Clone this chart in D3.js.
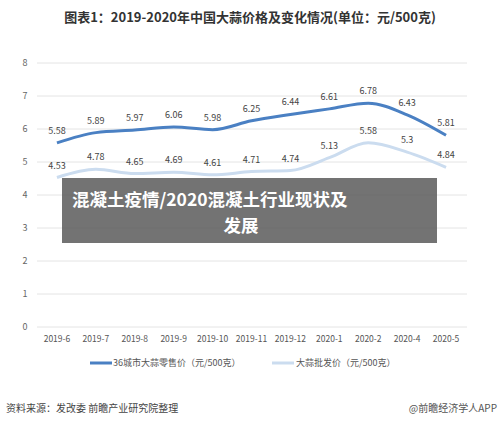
<!DOCTYPE html>
<html><head><meta charset="utf-8">
<script src="https://cdn.jsdelivr.net/npm/d3@7"></script>
<style>body{margin:0;background:#fff;font-family:"Noto Sans CJK SC",sans-serif}</style>
</head><body><svg id="c"></svg>
<script>
const months = ["2019-6","2019-7","2019-8","2019-9","2019-10","2019-11","2019-12","2020-1","2020-2","2020-4","2020-5"];
const retail = [5.58,5.89,5.97,6.06,5.98,6.25,6.44,6.61,6.78,6.43,5.81];
const wholesale = [4.53,4.78,4.65,4.69,4.61,4.71,4.74,5.13,5.58,5.3,4.84];
const yTicks = [0,1,2,3,4,5,6,7,8];

const svg = d3.select("#c").attr("width",500).attr("height",425);
const x = d3.scaleBand().domain(months).range([37.5,465.5]);
const y = d3.scaleLinear().domain([0,8]).range([327,63]);
const cx = d => x(d) + x.bandwidth()/2;

svg.append("text").attr("x",250).attr("y",22).attr("text-anchor","middle")
  .attr("font-size",13).attr("font-weight","bold").attr("fill","#333")
  .text("图表1：2019-2020年中国大蒜价格及变化情况(单位：元/500克)");

// grid + y labels
svg.selectAll(".grid").data(yTicks).join("line")
  .attr("x1",37).attr("x2",467).attr("y1",d=>y(d)).attr("y2",d=>y(d))
  .attr("stroke","#e4e4e4");
svg.selectAll(".yl").data(yTicks).join("text")
  .attr("x",25).attr("y",d=>y(d)+3).attr("text-anchor","middle")
  .attr("font-size",9).attr("fill","#666").text(d=>d);
svg.selectAll(".xl").data(months).join("text")
  .attr("x",cx).attr("y",342).attr("text-anchor","middle")
  .attr("font-size",8.5).attr("fill","#555").text(d=>d);

const line = d3.line().x((d,i)=>cx(months[i])).y(d=>y(d)).curve(d3.curveMonotoneX);
const series = [
  {v:retail,color:"#4a80c3",dy:-9,name:"36城市大蒜零售价（元/500克）"},
  {v:wholesale,color:"#cbdcef",dy:-9,name:"大蒜批发价（元/500克）"}
];
series.forEach(s=>{
  svg.append("path").datum(s.v).attr("d",line).attr("fill","none")
    .attr("stroke",s.color).attr("stroke-width",3);
  svg.selectAll(null).data(s.v).join("text")
    .attr("x",(d,i)=>cx(months[i])).attr("y",d=>y(d)+s.dy)
    .attr("text-anchor","middle").attr("font-size",9).attr("fill","#444").text(d=>d);
});

// legend
const lg = [{x:90,tx:113},{x:272,tx:296}];
series.forEach((s,i)=>{
  svg.append("line").attr("x1",lg[i].x).attr("x2",lg[i].x+22).attr("y1",363).attr("y2",363)
    .attr("stroke",s.color).attr("stroke-width",3);
  svg.append("text").attr("x",lg[i].tx).attr("y",366).attr("font-size",9).attr("fill","#555").text(s.name);
});

svg.append("text").attr("x",6).attr("y",412).attr("font-size",10).attr("fill","#444")
  .text("资料来源：发改委 前瞻产业研究院整理");
svg.append("text").attr("x",497).attr("y",412).attr("text-anchor","end").attr("font-size",10).attr("fill","#555")
  .text("@前瞻经济学人APP");

// overlay banner
svg.append("rect").attr("x",62).attr("y",178).attr("width",375).attr("height",65)
  .attr("fill","#5a5a5a").attr("opacity",0.85);
svg.append("text").attr("x",72).attr("y",206).attr("font-size",17.5).attr("font-weight","bold").attr("fill","#fff")
  .text("混凝土疫情/2020混凝土行业现状及");
svg.append("text").attr("x",241).attr("y",232).attr("text-anchor","middle").attr("font-size",17.5).attr("font-weight","bold").attr("fill","#fff")
  .text("发展");
</script></body></html>
